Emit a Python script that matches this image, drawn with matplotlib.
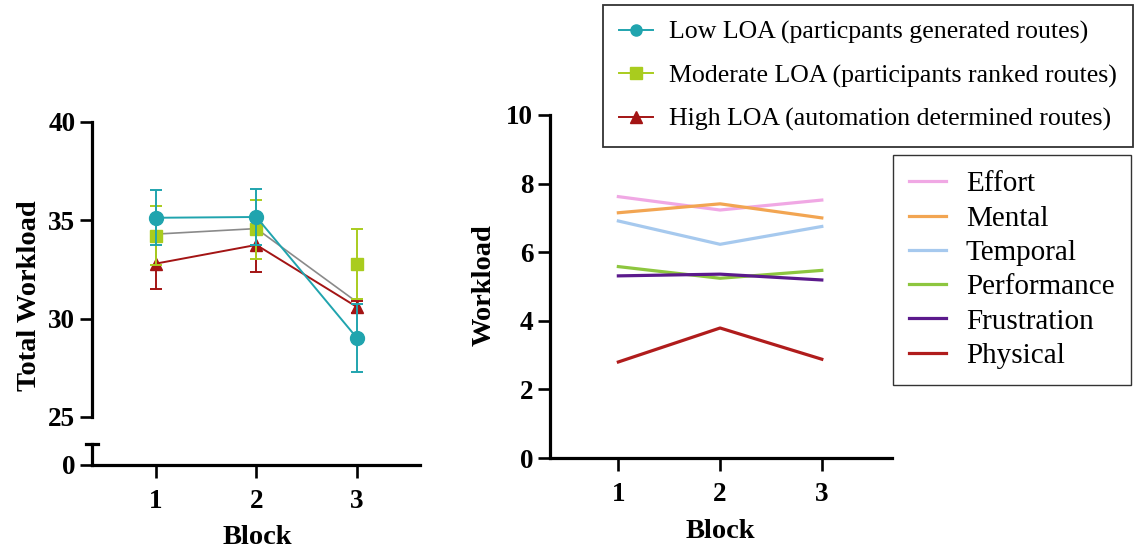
import matplotlib.pyplot as plt
from matplotlib.lines import Line2D
import numpy as np

plt.rcParams['font.family'] = ['Liberation Serif', 'DejaVu Serif']

# left panel: total workload per block and LOA condition
blocks = [1, 2, 3]
low_loa = [35.13, 35.17, 29.03]
low_err = [1.4, 1.4, 1.72]
mod_loa = [34.22, 34.54, 32.78]
mod_err = [1.5, 1.5, 1.8]
high_loa = [32.8, 33.75, 30.6]
high_err = [1.3, 1.4, 0.3]
overall = [34.3, 34.58, 30.85]

loa_labels = ['Low LOA (particpants generated routes)',
              'Moderate LOA (participants ranked routes)',
              'High LOA (automation determined routes)']
loa_colors = ['#20a4ae', '#a9cc1e', '#a31414']
loa_markers = ['o', 's', '^']

# right panel: NASA-TLX subscales
sub_names = ['Effort', 'Mental', 'Temporal', 'Performance', 'Frustration', 'Physical']
effort = [7.62, 7.23, 7.52]
mental = [7.15, 7.41, 7.0]
temporal = [6.91, 6.23, 6.75]
performance = [5.58, 5.24, 5.47]
frustration = [5.31, 5.36, 5.19]
physical = [2.80, 3.79, 2.88]
sub_vals = [effort, mental, temporal, performance, frustration, physical]
sub_colors = ['#f0a8e4', '#f2a552', '#a6c9ee', '#8dc63f', '#5b1a8c', '#b01c1c']

fig = plt.figure(figsize=(11.34, 5.52), dpi=100)

W, H = 1134, 552
def fbox(x0, y0, x1, y1):
    return [x0 / W, 1 - y1 / H, (x1 - x0) / W, (y1 - y0) / H]

spw = 2.3
tick_kw = dict(direction='out', length=9, width=1.9, labelsize=19.5, pad=3)
lab_fs = 20.5

# --- left: broken axis ---
ax_t = fig.add_axes(fbox(92, 122, 420, 417))
ax_b = fig.add_axes(fbox(92, 444, 420, 465))
xlim = (0.363, 3.63)
for ax in (ax_t, ax_b):
    ax.set_xlim(*xlim)
    ax.spines['top'].set_visible(False)
    ax.spines['right'].set_visible(False)
    ax.spines['left'].set_linewidth(spw)
    ax.spines['bottom'].set_linewidth(spw)
    ax.patch.set_alpha(0)
    ax.tick_params(**tick_kw)

ax_t.spines['bottom'].set_visible(False)
ax_t.set_ylim(25, 40)
ax_t.set_yticks([25, 30, 35, 40])
ax_t.set_yticklabels(['25', '30', '35', '40'], fontweight='bold')
ax_t.set_xticks([])

ax_b.set_ylim(0, 1)
ax_b.set_yticks([0])
ax_b.set_yticklabels(['0'], fontweight='bold')
ax_b.set_xticks(blocks)
ax_b.set_xticklabels([str(b) for b in blocks], fontweight='bold')
ax_b.tick_params(axis='x', pad=8)
ax_b.add_line(Line2D([-0.018, 0.018], [1, 1], transform=ax_b.transAxes,
                     color='black', lw=spw, clip_on=False))

ax_t.plot(blocks, overall, color='#8a8a8a', lw=1.2, zorder=2)
eb_kw = dict(lw=1.4, capsize=4.5, elinewidth=1.4, capthick=1.4)
ax_t.errorbar(blocks, high_loa, yerr=high_err, color=loa_colors[2], marker='^',
              ms=9, zorder=3, **eb_kw)
eb_mod = ax_t.errorbar(blocks, mod_loa, yerr=mod_err, color=loa_colors[1], marker='s',
                       ms=9, zorder=4, **eb_kw)
ax_t.errorbar(blocks, low_loa, yerr=low_err, color=loa_colors[0], marker='o',
              ms=10, zorder=5, **eb_kw)
# moderate points are joined by the gray line in the original
eb_mod.lines[0].set_linestyle('none')

fig.text(30 / W, 1 - 296 / H, 'Total Workload', rotation=90, ha='center', va='center',
         fontsize=lab_fs, fontweight='bold')
fig.text(257 / W, 1 - 538 / H, 'Block', ha='center', va='center',
         fontsize=lab_fs, fontweight='bold')

# --- right: subscales ---
ax_r = fig.add_axes(fbox(550, 115, 892, 458))
ax_r.set_xlim(0.328, 3.69)
ax_r.set_ylim(0, 10)
for name, vals, c in zip(sub_names, sub_vals, sub_colors):
    ax_r.plot(blocks, vals, color=c, lw=2.3, label=name)
ax_r.spines['top'].set_visible(False)
ax_r.spines['right'].set_visible(False)
ax_r.spines['left'].set_linewidth(spw)
ax_r.spines['bottom'].set_linewidth(spw)
ax_r.patch.set_alpha(0)
ax_r.set_xticks(blocks)
ax_r.set_yticks([0, 2, 4, 6, 8, 10])
ax_r.tick_params(**tick_kw)
ax_r.tick_params(axis='x', pad=8)
for lab in ax_r.get_yticklabels() + ax_r.get_xticklabels():
    lab.set_fontweight('bold')
for lab in ax_b.get_xticklabels():
    lab.set_fontweight('bold')

fig.text(484 / W, 1 - 285 / H, 'Workload', rotation=90, ha='center', va='center',
         fontsize=lab_fs, fontweight='bold')
fig.text(720 / W, 1 - 532 / H, 'Block', ha='center', va='center',
         fontsize=lab_fs, fontweight='bold')

# legends
loa_handles = [Line2D([], [], color=c, marker=m, ms=8, lw=1.4)
               for c, m in zip(loa_colors, loa_markers)]
leg1 = fig.legend(loa_handles, loa_labels, loc='upper left',
                  bbox_to_anchor=(603 / W, 1 - 5 / H), borderaxespad=0,
                  fontsize=18.6, frameon=True, fancybox=False, edgecolor='black',
                  handlelength=1.35, labelspacing=0.78, borderpad=0.6,
                  handletextpad=0.62)
leg1.get_frame().set_linewidth(1.3)

leg2 = ax_r.legend(loc='upper left', bbox_to_anchor=(893 / W, 1 - 155 / H),
                   bbox_transform=fig.transFigure, borderaxespad=0, fontsize=21,
                   frameon=True, fancybox=False, edgecolor='black',
                   handlelength=1.25, labelspacing=0.27, borderpad=0.55,
                   handletextpad=0.7)
leg2.get_frame().set_linewidth(1.0)

plt.savefig('out.png', dpi=100)
